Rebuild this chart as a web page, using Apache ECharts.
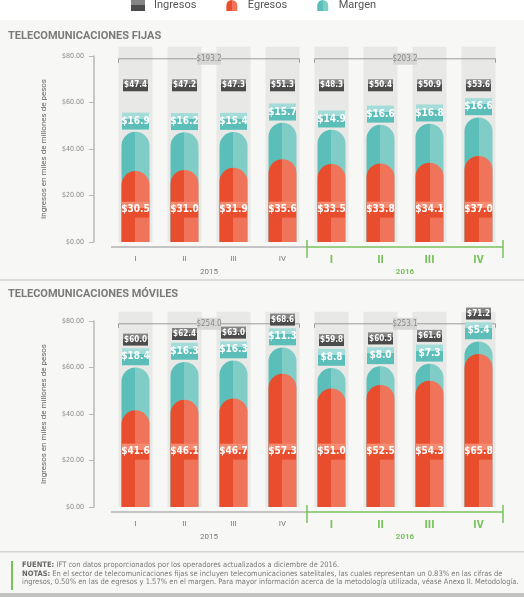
<!DOCTYPE html>
<html>
<head>
<meta charset="utf-8">
<script src="https://cdn.jsdelivr.net/npm/echarts@6/dist/echarts.min.js"></script>
<style>
html, body { margin: 0; padding: 0; background: #f7f7f5; }
#chart { width: 524px; height: 597px; }
</style>
</head>
<body>
<div id="chart"></div>
<script>
// datos (miles de millones de pesos)
var trimestres = ['I', 'II', 'III', 'IV', 'I', 'II', 'III', 'IV'];
var anios = ['2015', '2016'];
var yTicks = [0, 20, 40, 60, 80];

var fijasIngresos = [47.4, 47.2, 47.3, 51.3, 48.3, 50.4, 50.9, 53.6];
var fijasEgresos  = [30.5, 31.0, 31.9, 35.6, 33.5, 33.8, 34.1, 37.0];
var fijasMargen   = [16.9, 16.2, 15.4, 15.7, 14.9, 16.6, 16.8, 16.6];

var movilesIngresos = [60.0, 62.4, 63.0, 68.6, 59.8, 60.5, 61.6, 71.2];
var movilesEgresos  = [41.6, 46.1, 46.7, 57.3, 51.0, 52.5, 54.3, 65.8];
var movilesMargen   = [18.4, 16.3, 16.3, 11.3, 8.8, 8.0, 7.3, 5.4];

var verde = '#78c25c';
var narrow = "'Liberation Sans Narrow', 'DejaVu Sans Condensed', Roboto, sans-serif";

function duo(c1, c2, horiz, stop) {
	stop = stop || 0.5;
	return new echarts.graphic.LinearGradient(0, 0, horiz ? 1 : 0, horiz ? 0 : 1, [
		{offset: 0, color: c1}, {offset: stop, color: c1},
		{offset: stop, color: c2}, {offset: 1, color: c2}
	]);
}

function sumaAnio(arr, a) {
	var s = 0;
	for (var i = a * 4; i < a * 4 + 4; i++) s += arr[i];
	return Math.round(s * 10) / 10;
}

//decoracion: corchete con total, linea base y año
function deco(params, api) {
	var s = api.value(0), e = api.value(1), tot = api.value(2), g = api.value(3);
	var p0 = api.coord([s, 0]), p1 = api.coord([e, 0]);
	var band = api.size([1, 0])[0];
	var by = api.coord([s, 78.8])[1];
	var mid = (p0[0] + p1[0]) / 2;
	var y0 = p0[1] + 5;
	var col = g ? verde : '#b3b3b3';
	var kids = [
		{type: 'polyline', shape: {points: [[p0[0] - 17, by + 4], [p0[0] - 17, by], [p1[0] + 17, by], [p1[0] + 17, by + 4]]},
			style: {stroke: '#9d9d9d', lineWidth: 1, fill: null}},
		{type: 'rect', shape: {x: mid - 12, y: by - 6, width: 24, height: 12}, style: {fill: '#d7d7d5'}},
		{type: 'text', x: mid, y: by, style: {text: '$' + tot.toFixed(1), fill: '#8a8a8a', font: '8px ' + narrow, align: 'center', verticalAlign: 'middle'}},
		{type: 'line', shape: {x1: p0[0] - band / 2, y1: y0, x2: p1[0] + band / 2, y2: y0}, style: {stroke: col, lineWidth: 1.5}},
		{type: 'text', x: mid, y: y0 + 25, style: {text: anios[g], fill: g ? verde : '#7a7a7a', font: (g ? 'bold ' : '') + '8px Roboto', align: 'center', verticalAlign: 'middle'}}
	];
	if (g) {
		kids.push({type: 'line', shape: {x1: p0[0] - band / 2, y1: y0 - 7, x2: p0[0] - band / 2, y2: y0 + 11}, style: {stroke: col, lineWidth: 1.5}});
		kids.push({type: 'line', shape: {x1: p1[0] + band / 2, y1: y0 - 7, x2: p1[0] + band / 2, y2: y0 + 11}, style: {stroke: col, lineWidth: 1.5}});
	}
	return {type: 'group', children: kids};
}

function caja(name, xi, ys, vals, size, c1, c2, stop, fs) {
	var data = [];
	for (var i = 0; i < vals.length; i++) data.push([i, ys[i], vals[i]]);
	return {
		name: name, type: 'scatter', xAxisIndex: xi, yAxisIndex: xi / 2, z: 5, clip: false,
		symbol: 'rect', symbolSize: size, data: data, silent: true,
		itemStyle: {color: duo(c1, c2, false, stop), opacity: 1},
		label: {show: true, position: 'inside', color: '#fff', fontWeight: 'bold', fontSize: fs, fontFamily: narrow,
			formatter: function(p) { return '$' + p.value[2].toFixed(1); }}
	};
}

function panel(k, ing, egr, mar, baseIng, rojoY) {
	var xi = k * 2;
	var yMar = [], yIng = [], yRojo = [], fondo = [];
	for (var i = 0; i < ing.length; i++) {
		yMar.push(ing[i] + 4.6);
		yIng.push(Math.max(baseIng, ing[i] + 12));
		yRojo.push(rojoY);
		fondo.push(84);
	}
	return [
		{type: 'bar', xAxisIndex: xi + 1, yAxisIndex: k, data: fondo, barWidth: 34, clip: false, silent: true,
			itemStyle: {color: '#e8e8e6'}},
		{name: 'Margen', type: 'bar', xAxisIndex: xi, yAxisIndex: k, data: ing, barWidth: 28, barGap: '-100%',
			itemStyle: {color: duo('#5bbeb9', '#80cdc8', true), borderRadius: [14, 14, 0, 0]}},
		{name: 'Egresos', type: 'bar', xAxisIndex: xi, yAxisIndex: k, data: egr, barWidth: 28, barGap: '-100%',
			itemStyle: {color: duo('#e84e2d', '#ef7459', true), borderRadius: [14, 14, 0, 0]}},
		caja('Ingresos', xi, yIng, ing, [25, 12], '#848484', '#4b4b4b', 0.42, 8),
		caja('etMargen', xi, yMar, mar, [27, 17], '#a3dcd8', '#5bbeb9', 0.35, 10),
		caja('etEgresos', xi, yRojo, egr, [27, 16], '#f48b70', '#e84e2d', 0.37, 10),
		{type: 'custom', xAxisIndex: xi, yAxisIndex: k, renderItem: deco, z: 3, silent: true,
			data: [[0, 3, sumaAnio(ing, 0), 0], [4, 7, sumaAnio(ing, 1), 1]]}
	];
}

function ejeX(g, show) {
	return {
		type: 'category', gridIndex: g, data: trimestres, show: show,
		axisLine: {show: false}, axisTick: {show: false},
		axisLabel: {margin: 13, formatter: function(v, i) { return i < 4 ? '{a|' + v + '}' : '{b|' + v + '}'; },
			rich: {a: {color: '#7a7a7a', fontSize: 8, fontFamily: 'Roboto'},
				b: {color: verde, fontSize: 10, fontWeight: 'bold', fontFamily: narrow}}}
	};
}

function ejeY(g) {
	return {
		type: 'value', gridIndex: g, min: yTicks[0], max: yTicks[yTicks.length - 1], interval: 20, offset: 17,
		name: 'Ingresos en miles de millones de pesos', nameLocation: 'middle', nameGap: 46,
		nameTextStyle: {fontSize: 8, color: '#666', fontFamily: 'Roboto'},
		axisLine: {show: true, lineStyle: {color: '#b8b8b8', width: 1.5}},
		axisTick: {show: true, length: 5, lineStyle: {color: '#b8b8b8'}},
		splitLine: {show: false},
		axisLabel: {margin: 10, fontSize: 7, color: '#8a8a8a', fontFamily: narrow,
			formatter: function(v) { return '$' + v.toFixed(2); }}
	};
}

var iconoRedondo = 'path://M0,12V6A6,6,0,0,1,12,6V12Z';

var myChart = echarts.init(document.getElementById('chart'));
var option = {
	backgroundColor: '#f7f7f5',
	animation: false,
	title: [
		{text: 'TELECOMUNICACIONES FIJAS', left: 3, top: 26,
			textStyle: {fontSize: 11, fontWeight: 'bold', color: '#7a7a7a', fontFamily: 'Roboto'}},
		{text: 'TELECOMUNICACIONES MÓVILES', left: 3, top: 284,
			textStyle: {fontSize: 11, fontWeight: 'bold', color: '#7a7a7a', fontFamily: 'Roboto'}}
	],
	legend: {
		left: 131, top: 0, padding: 0, itemWidth: 14, itemHeight: 11, itemGap: 30,
		textStyle: {fontSize: 11, color: '#555', fontFamily: 'Roboto', padding: [0, 0, 0, 4]},
		data: [
			{name: 'Ingresos', icon: 'rect'},
			{name: 'Egresos', icon: iconoRedondo},
			{name: 'Margen', icon: iconoRedondo}
		],
		selectedMode: false
	},
	grid: [
		{left: 111, width: 392, top: 56, height: 186},
		{left: 111, width: 392, top: 321, height: 186}
	],
	xAxis: [ejeX(0, true), ejeX(0, false), ejeX(1, true), ejeX(1, false)],
	yAxis: [ejeY(0), ejeY(1)],
	graphic: [
		{type: 'rect', z: -10, shape: {x: 0, y: 0, width: 524, height: 20}, style: {fill: '#ffffff'}},
		{type: 'rect', z: -10, shape: {x: 0, y: 279, width: 524, height: 2}, style: {fill: '#dcdcda'}},
		{type: 'rect', z: -10, shape: {x: 0, y: 551, width: 524, height: 1.5}, style: {fill: '#d2d2d0'}},
		{type: 'rect', z: -10, shape: {x: 11, y: 561, width: 2, height: 29}, style: {fill: verde}},
		{type: 'rect', z: -10, shape: {x: 0, y: 593, width: 524, height: 4}, style: {fill: '#c2c2c0'}},
		{type: 'text', left: 22, top: 561, style: {
			text: '{b|FUENTE:} IFT con datos proporcionados por los operadores actualizados a diciembre de 2016.\n' +
				'{b|NOTAS:} En el sector de telecomunicaciones fijas se incluyen telecomunicaciones satelitales, las cuales representan un 0.83% en las cifras de\n' +
				'ingresos, 0.50% en las de egresos y 1.57% en el margen. Para mayor información acerca de la metodología utilizada, véase Anexo II. Metodología.',
			fontSize: 7.5, fontFamily: narrow, fill: '#7a7a7a', lineHeight: 8.5,
			rich: {b: {fontWeight: 'bold', fill: '#666', fontSize: 7.5, fontFamily: narrow, lineHeight: 8.5}}
		}}
	],
	series: [].concat(
		panel(0, fijasIngresos, fijasEgresos, fijasMargen, 67.4, 13.9),
		panel(1, movilesIngresos, movilesEgresos, movilesMargen, 71, 23.8)
	)
};

myChart.setOption(option);
window.onresize = myChart.resize;
</script>
</body>
</html>
